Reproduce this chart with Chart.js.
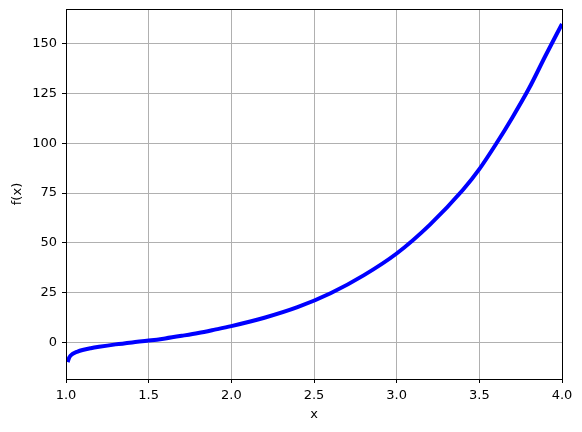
<!DOCTYPE html>
<html>
<head>
<meta charset="utf-8">
<script src="https://cdn.jsdelivr.net/npm/chart.js@4"></script>
<style>
  html, body { margin: 0; padding: 0; background: #fff; }
  #wrap { width: 582px; height: 432px; }
</style>
</head>
<body>
<div id="wrap"><canvas id="chart" width="582" height="432"></canvas></div>
<script>
// values
const xValues = [1.01, 1.02, 1.04, 1.07, 1.1, 1.15, 1.2, 1.3, 1.4, 1.5, 1.6, 1.7, 1.8, 1.9, 2.0,
                 2.2, 2.4, 2.6, 2.8, 3.0, 3.2, 3.4, 3.5, 3.6, 3.7, 3.8, 3.9, 4.0];
const yValues = [-10.0, -7.6, -5.9, -4.7, -3.9, -3.0, -2.3, -1.1, -0.1, 0.8, 1.9, 3.2, 4.6, 6.3, 8.1,
                 12.3, 17.6, 24.6, 33.6, 44.6, 59.0, 76.5, 87.0, 99.5, 113.0, 127.5, 144.0, 160.0];
const xTicks = [1.0, 1.5, 2.0, 2.5, 3.0, 3.5, 4.0];
const yTicks = [0, 25, 50, 75, 100, 125, 150];

const points = xValues.map((x, i) => ({ x: x, y: yValues[i] }));
const font = { family: 'DejaVu Sans', size: 13 };

// black frame on all four sides, like the matplotlib spines
const framePlugin = {
    id: 'frame',
    afterDraw(chart) {
        const a = chart.chartArea;
        const ctx = chart.ctx;
        ctx.save();
        ctx.strokeStyle = '#000';
        ctx.lineWidth = 1;
        ctx.strokeRect(Math.round(a.left) + 0.5, Math.round(a.top) + 0.5,
                       Math.round(a.right - a.left), Math.round(a.bottom - a.top));
        ctx.restore();
    }
};

new Chart(document.getElementById('chart').getContext('2d'), {
    type: 'line',
    data: {
        datasets: [{
            data: points,
            borderColor: '#0000ff',
            borderWidth: 4,
            pointRadius: 0,
            cubicInterpolationMode: 'monotone',
            fill: false
        }]
    },
    options: {
        responsive: false,
        animation: false,
        layout: { padding: { top: 9, right: 20, left: 0, bottom: 0 } },
        plugins: { legend: { display: false }, tooltip: { enabled: false } },
        scales: {
            x: {
                type: 'linear',
                min: 1.0,
                max: 4.0,
                afterBuildTicks: s => { s.ticks = xTicks.map(v => ({ value: v })); },
                afterFit: s => { s.height = 53; s.paddingLeft = 0; s.paddingRight = 0; },
                grid: { color: '#b0b0b0', lineWidth: 1, tickColor: '#000', tickLength: 4 },
                border: { display: false },
                ticks: { font: font, color: '#000', padding: 5, maxRotation: 0,
                         callback: v => Number(v).toFixed(1) },
                title: { display: true, text: 'x', font: font, color: '#000', padding: { top: 2, bottom: 10 } }
            },
            y: {
                min: -18.5,
                max: 167.5,
                afterBuildTicks: s => { s.ticks = yTicks.map(v => ({ value: v })); },
                afterFit: s => { s.width = 66; s.paddingTop = 0; s.paddingBottom = 0; },
                grid: { color: '#b0b0b0', lineWidth: 1, tickColor: '#000', tickLength: 4 },
                border: { display: false },
                ticks: { font: font, color: '#000', padding: 5 },
                title: { display: true, text: 'f(x)', font: font, color: '#000', padding: { top: 10, bottom: 0 } }
            }
        }
    },
    plugins: [framePlugin]
});
</script>
</body>
</html>
